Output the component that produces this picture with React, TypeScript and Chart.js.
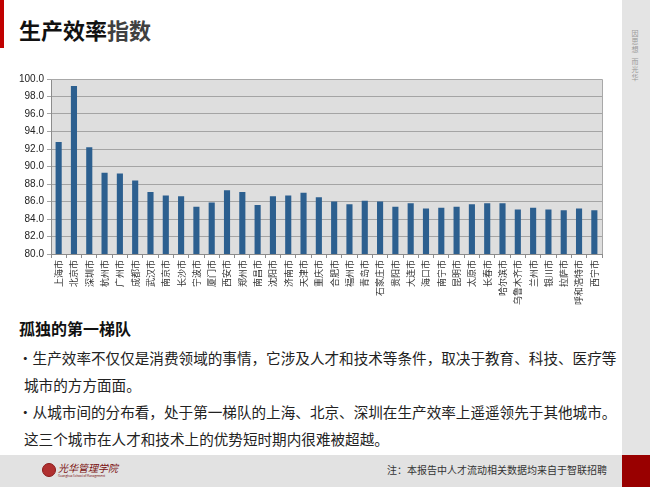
import React, { useEffect, useRef } from "react";
import { Chart, registerables } from "chart.js";

Chart.register(...registerables);

const cities = [
  "上海市", "北京市", "深圳市", "杭州市", "广州市", "成都市", "武汉市", "南京市", "长沙市",
  "宁波市", "厦门市", "西安市", "郑州市", "南昌市", "沈阳市", "济南市", "天津市", "重庆市",
  "合肥市", "福州市", "青岛市", "石家庄市", "贵阳市", "大连市", "海口市", "南宁市", "昆明市",
  "太原市", "长春市", "哈尔滨市", "乌鲁木齐市", "兰州市", "银川市", "拉萨市", "呼和浩特市", "西宁市",
];

const efficiency = [
  92.8, 99.2, 92.2, 89.3, 89.2, 88.4, 87.1, 86.7, 86.6,
  85.4, 85.9, 87.3, 87.1, 85.6, 86.6, 86.7, 87.0, 86.5,
  86.0, 85.7, 86.1, 86.0, 85.4, 85.8, 85.2, 85.3, 85.4,
  85.7, 85.8, 85.8, 85.1, 85.3, 85.1, 85.0, 85.2, 85.0,
];

const yMin = 80;
const yMax = 100;
const yStep = 2;

const sloganChars = ["因", "思", "想", " ", "而", "光", "华"];

const CJK = '"Noto Sans CJK SC", "Noto Sans", sans-serif';

const plotBg = {
  id: "plotBg",
  beforeDraw(chart: any) {
    const { ctx, chartArea } = chart;
    if (!chartArea) return;
    ctx.save();
    ctx.fillStyle = "#dedede";
    ctx.fillRect(chartArea.left, chartArea.top, chartArea.right - chartArea.left, chartArea.bottom - chartArea.top);
    ctx.restore();
  },
  afterDraw(chart: any) {
    const { ctx, chartArea } = chart;
    ctx.save();
    ctx.strokeStyle = "#a8a8a8";
    ctx.lineWidth = 1;
    ctx.beginPath();
    ctx.moveTo(chartArea.left, chartArea.top + 0.5);
    ctx.lineTo(chartArea.right + 0.5, chartArea.top + 0.5);
    ctx.lineTo(chartArea.right + 0.5, chartArea.bottom);
    ctx.stroke();
    ctx.restore();
  },
};

function BarChart() {
  const ref = useRef<HTMLCanvasElement>(null);
  useEffect(() => {
    if (!ref.current) return;
    const chart = new Chart(ref.current, {
      type: "bar",
      data: {
        labels: cities,
        datasets: [
          {
            data: efficiency,
            backgroundColor: "#2c5f8f",
            borderWidth: 0,
            barPercentage: 0.4,
            categoryPercentage: 1.0,
          },
        ],
      },
      options: {
        animation: false,
        responsive: false,
        maintainAspectRatio: false,
        layout: { padding: { top: 17, right: 10, left: 0, bottom: 0 } },
        plugins: { legend: { display: false }, tooltip: { enabled: false } },
        scales: {
          x: {
            afterFit: (s: any) => { s.height = 58; },
            grid: {
              display: true,
              drawOnChartArea: false,
              offset: true,
              tickLength: 4,
              color: "#8c8c8c",
            },
            border: { display: true, color: "#8c8c8c" },
            ticks: {
              autoSkip: false,
              minRotation: 90,
              maxRotation: 90,
              padding: 2,
              color: "#333333",
              font: { family: CJK, size: 9 },
            },
          },
          y: {
            min: yMin,
            max: yMax,
            afterFit: (s: any) => { s.width = 51; },
            grid: {
              color: "#a4a4a4",
              tickLength: 4,
              lineWidth: 1,
            },
            border: { display: true, color: "#8c8c8c" },
            ticks: {
              stepSize: yStep,
              padding: 3,
              color: "#222222",
              font: { family: '"Liberation Sans", Arial, sans-serif', size: 10 },
              callback: (v: any) => Number(v).toFixed(1),
            },
          },
        },
      },
      plugins: [plotBg],
    });
    return () => chart.destroy();
  }, []);
  return <canvas ref={ref} width={612} height={250} style={{ width: 612, height: 250, display: "block" }} />;
}

export default function App() {
  useEffect(() => {
    document.body.style.margin = "0";
  }, []);
  const abs = (s: React.CSSProperties): React.CSSProperties => ({ position: "absolute", ...s });
  return (
    <div style={{ position: "fixed", left: 0, top: 0, width: 650, height: 487, background: "#ffffff", overflow: "hidden", fontFamily: CJK }}>
      {/* left red mark */}
      <div style={abs({ left: 0, top: 0, width: 4, height: 48, background: "#c00000" })} />
      {/* title */}
      <div style={abs({ left: 19, top: 14, fontSize: 22, fontWeight: 700, lineHeight: "30px", color: "#111" })}>
        生产效率<span style={{ color: "#404040" }}>指数</span>
      </div>
      {/* right strip */}
      <div style={abs({ left: 622, top: 0, width: 28, height: 455, background: "#e4e4e4" })} />
      <div style={abs({ left: 629, top: 29, width: 12, textAlign: "center", fontSize: 7, color: "#9a9a9a", lineHeight: "8px" })}>
        {sloganChars.map((c, i) => (
          <div key={i} style={{ height: c === " " ? 4 : 8 }}>{c === " " ? "" : c}</div>
        ))}
      </div>
      {/* chart */}
      <div style={abs({ left: 0, top: 62, width: 612, height: 250 })}>
        <BarChart />
      </div>
      {/* text */}
      <div style={abs({ left: 19, top: 316, fontSize: 16, fontWeight: 700, color: "#111", lineHeight: "24px" })}>
        孤独的第一梯队
      </div>
      <div style={abs({ left: 18, top: 344, width: 600, fontSize: 14.6, color: "#222", lineHeight: "27px" })}>
        <div>•生产效率不仅仅是消费领域的事情，它涉及人才和技术等条件，取决于教育、科技、医疗等</div>
        <div style={{ paddingLeft: 6 }}>城市的方方面面。</div>
        <div>•从城市间的分布看，处于第一梯队的上海、北京、深圳在生产效率上遥遥领先于其他城市。</div>
        <div style={{ paddingLeft: 6 }}>这三个城市在人才和技术上的优势短时期内很难被超越。</div>
      </div>
      {/* footer */}
      <div style={abs({ left: 0, top: 455, width: 622, height: 32, background: "#e2e2e2" })} />
      <div style={abs({ left: 622, top: 455, width: 28, height: 32, background: "#990000" })} />
      <div style={abs({ left: 42, top: 463, width: 14, height: 14, borderRadius: 7, background: "#b03030", border: "1px solid #8a1a1a", boxSizing: "border-box" })} />
      <div style={abs({ left: 58, top: 462, fontSize: 10, color: "#7a1010", fontFamily: '"Noto Sans CJK SC", serif', lineHeight: "12px", fontStyle: "italic" })}>
        光华管理学院
      </div>
      <div style={abs({ left: 58, top: 474, fontSize: 3, color: "#7a1010", lineHeight: "4px", whiteSpace: "nowrap" })}>
        Guanghua School of Management
      </div>
      <div style={abs({ left: 340, top: 463, width: 267, textAlign: "right", fontSize: 10, color: "#333", lineHeight: "14px", whiteSpace: "nowrap" })}>
        注：本报告中人才流动相关数据均来自于智联招聘
      </div>
    </div>
  );
}
